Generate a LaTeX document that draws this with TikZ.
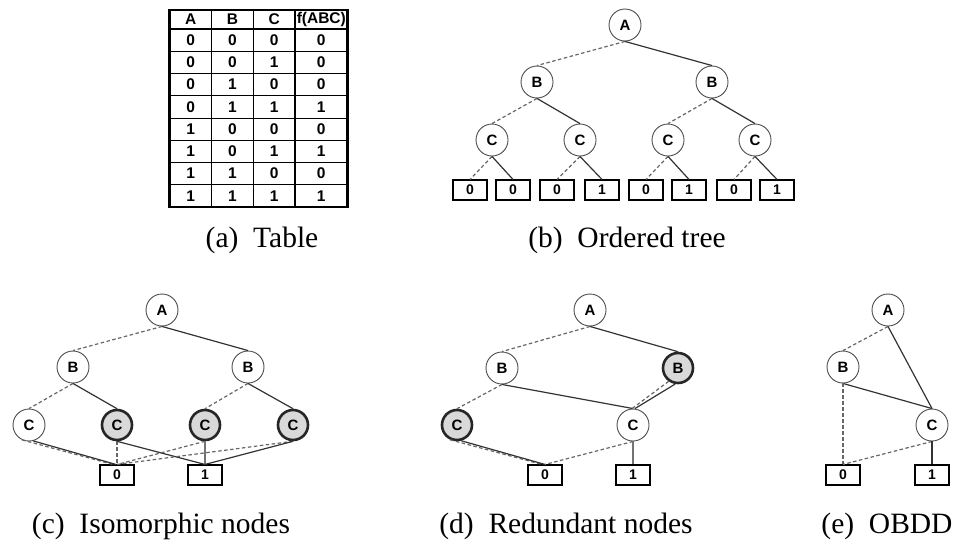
\documentclass[tikz,border=0pt]{standalone}
\usepackage{fontspec}
\setmainfont{Liberation Serif}
\newfontfamily\arialf{Liberation Sans}
\begin{document}
\begin{tikzpicture}[x=1pt,y=-1pt,
  vnode/.style={circle, draw=black!70, line width=0.9pt, minimum size=32pt, inner sep=0pt,
    font=\arialf\bfseries\fontsize{15}{15}\selectfont},
  hl/.style={fill=black!15, draw=black!85, line width=2.6pt, minimum size=30pt},
  leaf/.style={rectangle, draw=black, line width=1.1pt, minimum width=34pt, minimum height=20pt,
    inner sep=0pt, font=\arialf\bfseries\fontsize{14}{14}\selectfont},
  hiedge/.style={draw=black!80, line width=1.2pt},
  grayedge/.style={draw=black!55, line width=1.2pt},
  loedge/.style={draw=black!60, line width=1.2pt, dash pattern=on 3.5pt off 2.5pt},
  captxt/.style={anchor=base, inner sep=0pt, font=\fontsize{29.5}{30}\selectfont},
  cell/.style={inner sep=0pt, font=\arialf\bfseries\fontsize{15.5}{16}\selectfont},
  tthin/.style={draw=black, line width=0.9pt},
  tthick/.style={draw=black, line width=2.4pt}]
\useasboundingbox (0,0) rectangle (962,544);

% ---------- (a) table ----------
\def\xa{169.5}\def\xb{211.7}\def\xc{253.3}\def\xd{295}\def\xe{347.5}
\foreach \i in {1,...,7} {
  \draw[tthin] (\xa,29+\i*22.25) -- (\xe,29+\i*22.25);
}
\draw[tthin] (\xb,10) -- (\xb,207);
\draw[tthin] (\xc,10) -- (\xc,207);
\draw[draw=black, line width=1.8pt] (\xd,10) -- (\xd,207);
\draw[draw=black, line width=1.8pt] (\xa,29) -- (\xe,29);
\draw[tthick] (\xa,10) rectangle (\xe,207);
\node[cell] (hA) at (190.6,19.5) {A};
\node[cell] (hB) at (232.5,19.5) {B};
\node[cell] (hC) at (274.2,19.5) {C};
\node[cell] (hF) at (321.3,19.5) {f(ABC)};
\foreach \r/\a/\b/\c/\f in {1/0/0/0/0,2/0/0/1/0,3/0/1/0/0,4/0/1/1/1,5/1/0/0/0,6/1/0/1/1,7/1/1/0/0,8/1/1/1/1} {
  \node[cell] (ta\r) at (190.6,29+\r*22.25-11.1) {\a};
  \node[cell] (tb\r) at (232.5,29+\r*22.25-11.1) {\b};
  \node[cell] (tc\r) at (274.2,29+\r*22.25-11.1) {\c};
  \node[cell] (tf\r) at (321.3,29+\r*22.25-11.1) {\f};
}
\node[captxt] (capa) at (262,247) {(a)\enspace Table};

% ---------- (b) ordered tree ----------
\node[vnode] (bA) at (625,25) {A};
\node[vnode] (bB1) at (537,82) {B};
\node[vnode] (bB2) at (712,82) {B};
\node[vnode] (bC1) at (492,140) {C};
\node[vnode] (bC2) at (580,140) {C};
\node[vnode] (bC3) at (668,140) {C};
\node[vnode] (bC4) at (755,140) {C};
\node[leaf] (bL1) at (470,190) {0};
\node[leaf] (bL2) at (513,190) {0};
\node[leaf] (bL3) at (557,190) {0};
\node[leaf] (bL4) at (602,190) {1};
\node[leaf] (bL5) at (646,190) {0};
\node[leaf] (bL6) at (689,190) {1};
\node[leaf] (bL7) at (734,190) {0};
\node[leaf] (bL8) at (777,190) {1};
\draw[loedge] (bA.south) -- (bB1.north);
\draw[hiedge] (bA.south) -- (bB2.north);
\draw[loedge] (bB1.south) -- (bC1.north);
\draw[hiedge] (bB1.south) -- (bC2.north);
\draw[loedge] (bB2.south) -- (bC3.north);
\draw[hiedge] (bB2.south) -- (bC4.north);
\draw[loedge] (bC1.south) -- (bL1.north);
\draw[hiedge] (bC1.south) -- (bL2.north);
\draw[loedge] (bC2.south) -- (bL3.north);
\draw[hiedge] (bC2.south) -- (bL4.north);
\draw[loedge] (bC3.south) -- (bL5.north);
\draw[hiedge] (bC3.south) -- (bL6.north);
\draw[loedge] (bC4.south) -- (bL7.north);
\draw[hiedge] (bC4.south) -- (bL8.north);
\node[captxt] (capb) at (627,247) {(b)\enspace Ordered tree};

% ---------- (c) isomorphic nodes ----------
\node[vnode] (cA) at (162,310) {A};
\node[vnode] (cB1) at (73,367) {B};
\node[vnode] (cB2) at (248,367) {B};
\node[vnode] (cC1) at (29,425) {C};
\node[vnode,hl] (cC2) at (117,425) {C};
\node[vnode,hl] (cC3) at (205,425) {C};
\node[vnode,hl] (cC4) at (293,425) {C};
\node[leaf] (c0) at (117,475) {0};
\node[leaf] (c1) at (205,475) {1};
\draw[loedge] (cA.south) -- (cB1.north);
\draw[hiedge] (cA.south) -- (cB2.north);
\draw[loedge] (cB1.south) -- (cC1.north);
\draw[hiedge] (cB1.south) -- (cC2.north);
\draw[loedge] (cB2.south) -- (cC3.north);
\draw[hiedge] (cB2.south) -- (cC4.north);
\draw[loedge] (cC1.-115) -- ([xshift=-4pt]c0.north);
\draw[hiedge] (cC1.-75) -- ([xshift=-1pt]c0.north);
\draw[loedge] (cC2.south) -- (c0.north);
\draw[hiedge] (cC2.south) -- (c1.north);
\draw[loedge] (cC3.south) -- (c0.north);
\draw[grayedge] (cC3.south) -- (c1.north);
\draw[loedge] (cC4.south) -- (c0.north);
\draw[hiedge] (cC4.south) -- (c1.north);
\node[captxt] (capc) at (161,533) {(c)\enspace Isomorphic nodes};

% ---------- (d) redundant nodes ----------
\node[vnode] (dA) at (590,310) {A};
\node[vnode] (dB1) at (502,368) {B};
\node[vnode,hl] (dB2) at (678,368) {B};
\node[vnode,hl] (dC1) at (457,425) {C};
\node[vnode] (dC2) at (633,425) {C};
\node[leaf] (d0) at (545,475) {0};
\node[leaf] (d1) at (633,475) {1};
\draw[loedge] (dA.south) -- (dB1.north);
\draw[hiedge] (dA.south) -- (dB2.north);
\draw[loedge] (dB1.south) -- (dC1.north);
\draw[hiedge] (dB1.south) -- (dC2.north);
\draw[loedge] (dB2.-125) -- ([xshift=-1pt]dC2.north);
\draw[hiedge] (dB2.-100) -- ([xshift=2pt]dC2.north);
\draw[loedge] (dC1.-115) -- ([xshift=-3pt]d0.north);
\draw[hiedge] (dC1.-75) -- (d0.north);
\draw[loedge] (dC2.south) -- (d0.north);
\draw[grayedge] (dC2.south) -- (d1.north);
\node[captxt] (capd) at (566,533) {(d)\enspace Redundant nodes};

% ---------- (e) OBDD ----------
\node[vnode] (eA) at (888,310) {A};
\node[vnode] (eB) at (843,367) {B};
\node[vnode] (eC) at (932,425) {C};
\node[leaf] (e0) at (843,475) {0};
\node[leaf] (e1) at (932,475) {1};
\draw[loedge] (eA.south) -- (eB.north);
\draw[hiedge] (eA.south) -- (eC.north);
\draw[hiedge] (eB.south) -- (eC.north);
\draw[loedge] (eB.south) -- (e0.north);
\draw[loedge] (eC.south) -- (e0.north);
\draw[hiedge] (eC.south) -- (e1.north);
\node[captxt] (cape) at (887,533) {(e)\enspace OBDD};
\end{tikzpicture}
\end{document}
